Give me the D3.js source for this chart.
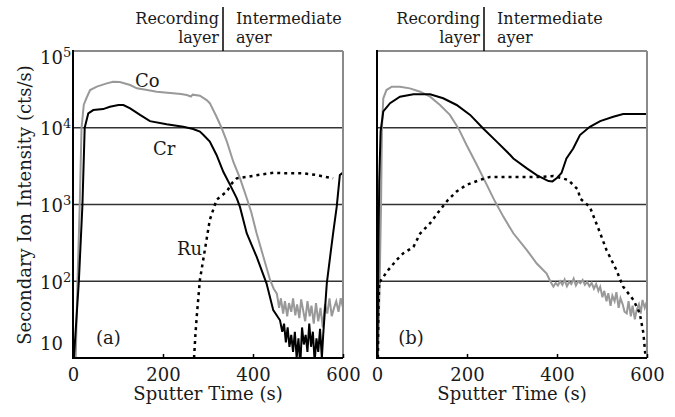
<!DOCTYPE html>
<html>
<head>
<meta charset="utf-8">
<script src="https://cdn.jsdelivr.net/npm/d3@7"></script>
<style>
  body { margin: 0; background: #fff; }
  text { font-family: "DejaVu Serif", serif; fill: #1a1a1a; }
  .tick text { font-size: 18px; }
</style>
</head>
<body>
<svg id="chart" width="675" height="417"></svg>
<script>
// [sputter time (s), intensity (cts/s)]

// panel (a)
let coA = [[0,10],[6,10],[10,100],[15,1000],[19,10000],[24,20000],[30,24400],[38,31000],[53,34300],[75,37900],
  [89,39800],[104,39400],[127,36000],[142,32600],[165,31000],[186,29500],[216,28400],[240,27500],[253,26700],
  [262,25500],[266,27000],[282,26200],[297,22900],[304,20900],[319,13900],[330,10000],[342,6600],[356,3640],
  [371,2210],[386,1215],[396,800],[408,422],[423,209],[438,104],[446,80],[453,69],[458,45],[462,60],[467,38],
  [471,55],[476,35],[480,52],[485,40],[489,60],[494,36],[498,50],[503,33],[507,58],[512,40],[516,30],[521,55],
  [526,35],[530,48],[535,28],[540,52],[545,30],[550,45],[555,25],[560,50],[565,38],[570,60],[575,35],[580,45],
  [585,55],[590,40],[595,60],[600,45]]
let crA = [[2,10],[13,100],[21,1000],[26,10000],[34,15400],[45,17000],[67,17500],[82,18800],[101,19800],
  [112,19800],[127,17900],[149,14700],[171,12200],[208,11100],[245,10300],[267,9640],[282,8900],[290,8040],
  [304,6600],[319,4420],[334,2670],[349,1800],[364,1200],[371,930],[386,422],[408,209],[430,94],[445,42],
  [460,31],[465,22],[469,28],[473,16],[477,25],[481,14],[485,20],[489,12],[493,22],[497,10],[501,18],[505,8],
  [509,25],[513,15],[517,20],[521,12],[525,28],[529,14],[533,22],[537,9],[541,18],[545,12],[549,24],[553,10],
  [556,20],[564,94],[571,200],[578,422],[586,930],[593,2420],[600,2600]]
let ruA = [[269,10],[272,20],[275,35],[282,104],[293,256],[304,630],[319,1150],[330,1300],[342,1480],[353,1890],
  [364,2190],[386,2290],[416,2450],[445,2590],[475,2550],[512,2550],[541,2420],[578,2190]]

// panel (b)
let coB = [[2,10],[6,100],[9,1000],[11,10000],[14,24200],[21,31000],[33,34300],[51,34300],[73,32600],[96,29500],
  [118,25400],[140,19800],[162,14700],[181,9800],[199,5950],[222,3270],[244,1800],[262,1100],[281,690],
  [303,422],[333,255],[355,170],[377,126],[385,100],[392,85],[397,95],[402,88],[407,100],[412,90],[417,105],
  [422,86],[427,98],[432,92],[437,108],[442,88],[447,100],[452,94],[457,104],[462,90],[467,98],[472,86],
  [477,95],[482,80],[487,92],[492,75],[496,85],[501,62],[505,75],[510,55],[514,70],[519,48],[523,65],[528,55],
  [532,72],[537,45],[541,60],[546,50],[550,40],[555,38],[559,55],[564,35],[568,48],[573,32],[577,42],[582,50],
  [586,38],[590,57],[595,45],[600,55]]
let crB = [[1,10],[3,200],[5,2000],[8,9000],[14,16300],[29,20900],[51,25400],[81,27300],[118,27300],[147,24200],
  [177,19800],[207,14700],[236,9800],[266,6600],[296,4420],[303,3980],[333,2960],[355,2420],[381,2020],
  [390,2000],[399,2190],[410,2570],[421,3980],[436,5370],[451,8040],[473,10300],[496,12200],[525,13900],
  [547,15100],[600,15100]]
let ruB = [[2,10],[3,40],[5,100],[7,100],[25,140],[44,190],[58,230],[81,280],[96,420],[118,570],[140,850],
  [158,1150],[177,1480],[199,1800],[229,2090],[251,2290],[288,2290],[325,2290],[362,2290],[392,2350],
  [425,2090],[447,1550],[451,1200],[473,930],[496,422],[510,255],[532,140],[547,85],[570,57],[584,38],
  [592,21],[596,11.6],[598,8]]

let xTicks = [0, 200, 400, 600]
let yTicks = [10, 100, 1000, 10000, 100000]
let gridVals = [100, 1000, 10000]

let plotTop = 51, plotBottom = 358
let svg = d3.select('#chart')

function drawPanel(p, idx) {
    let x = d3.scaleLinear().domain([0, 600]).range([p.left, p.right])
    let y = d3.scaleLog().domain([10, 1e5]).range([plotBottom, plotTop])
    let g = svg.append('g')

    g.append('clipPath').attr('id', 'clip' + idx)
        .append('rect')
        .attr('x', p.left).attr('y', plotTop)
        .attr('width', p.right - p.left).attr('height', plotBottom - plotTop)

    g.selectAll('line.grid').data(gridVals).enter().append('line')
        .attr('class', 'grid')
        .attr('x1', p.left).attr('x2', p.right)
        .attr('y1', d => y(d)).attr('y2', d => y(d))
        .attr('stroke', '#333').attr('stroke-width', 1.5)

    let line = d3.line().x(d => x(d[0])).y(d => y(d[1]))
    let curves = g.append('g').attr('clip-path', 'url(#clip' + idx + ')')
    curves.append('path').datum(p.co)
        .attr('d', line).attr('fill', 'none')
        .attr('stroke', '#999').attr('stroke-width', 2)
    curves.append('path').datum(p.cr)
        .attr('d', line).attr('fill', 'none')
        .attr('stroke', '#000').attr('stroke-width', 2)
    curves.append('path').datum(p.ru)
        .attr('d', line).attr('fill', 'none')
        .attr('stroke', '#000').attr('stroke-width', 2.5)
        .attr('stroke-dasharray', '3,4')

    // frame: dark left/bottom, grey top/right
    g.append('line').attr('x1', p.left).attr('x2', p.right).attr('y1', plotTop).attr('y2', plotTop)
        .attr('stroke', '#8a8a8a').attr('stroke-width', 2)
    g.append('line').attr('x1', p.right).attr('x2', p.right).attr('y1', plotTop).attr('y2', plotBottom)
        .attr('stroke', '#8a8a8a').attr('stroke-width', 2)
    g.append('line').attr('x1', p.left).attr('x2', p.left).attr('y1', plotTop - 1).attr('y2', plotBottom + 1)
        .attr('stroke', '#000').attr('stroke-width', 2)
    g.append('line').attr('x1', p.left).attr('x2', p.right).attr('y1', plotBottom).attr('y2', plotBottom)
        .attr('stroke', '#000').attr('stroke-width', 2)

    let xAxis = g.append('g')
        .attr('transform', 'translate(0,' + plotBottom + ')')
        .call(d3.axisBottom(x).tickValues(xTicks).tickSizeInner(-4).tickSizeOuter(0).tickPadding(10))
        .attr('font-family', null).attr('font-size', null)
    xAxis.select('.domain').remove()
    xAxis.selectAll('.tick line').attr('stroke', '#000').attr('stroke-width', 1.5)

    if (p.yLabels) {
        let yAxis = g.append('g')
            .attr('transform', 'translate(' + p.left + ',0)')
            .call(d3.axisLeft(y).tickValues(yTicks).tickSize(0).tickFormat(''))
            .attr('font-family', null).attr('font-size', null)
        yAxis.select('.domain').remove()
        yAxis.selectAll('.tick text').each(function(d) {
            let t = d3.select(this)
            let e = Math.round(Math.log10(d))
            t.attr('text-anchor', 'start').attr('x', -33)
                .attr('dy', d === 1e5 ? '0.7em' : d === 10 ? '-0.45em' : '0.4em')
                .text('10')
            if (e > 1) t.append('tspan').attr('dy', '-0.55em').style('font-size', '13px').text(e)
        })
    }

    g.append('text').attr('x', (p.left + p.right) / 2).attr('y', 400)
        .attr('text-anchor', 'middle').style('font-size', '18px')
        .text('Sputter Time (s)')

    // layer annotation above the frame
    g.append('line').attr('x1', p.divider).attr('x2', p.divider).attr('y1', 7).attr('y2', plotTop)
        .attr('stroke', '#000').attr('stroke-width', 1.5)
    let ann = [['Recording', 24, 'end', -4], ['layer', 43, 'end', -4],
               ['Intermediate', 24, 'start', 13], ['ayer', 43, 'start', 13]]
    g.selectAll('text.ann').data(ann).enter().append('text')
        .attr('class', 'ann')
        .attr('x', d => p.divider + d[3]).attr('y', d => d[1])
        .attr('text-anchor', d => d[2]).style('font-size', '16px')
        .text(d => d[0])

    g.selectAll('text.lab').data(p.labels).enter().append('text')
        .attr('class', 'lab')
        .attr('x', d => x(d.t)).attr('y', d => y(d.v))
        .style('font-size', '18px')
        .text(d => d.name)
}

let panels = [
    {left: 73, right: 343, divider: 223, yLabels: true, co: coA, cr: crA, ru: ruA,
     labels: [{name: 'Co', t: 138, v: 34000}, {name: 'Cr', t: 178, v: 4400},
              {name: 'Ru', t: 231, v: 220}, {name: '(a)', t: 51, v: 15}]},
    {left: 377, right: 647, divider: 484, yLabels: false, co: coB, cr: crB, ru: ruB,
     labels: [{name: '(b)', t: 47, v: 15}]}
]
panels.forEach(drawPanel)

svg.append('text')
    .attr('transform', 'translate(31,205) rotate(-90)')
    .attr('text-anchor', 'middle').style('font-size', '18px')
    .text('Secondary Ion Intensity (cts/s)')
</script>
</body>
</html>
